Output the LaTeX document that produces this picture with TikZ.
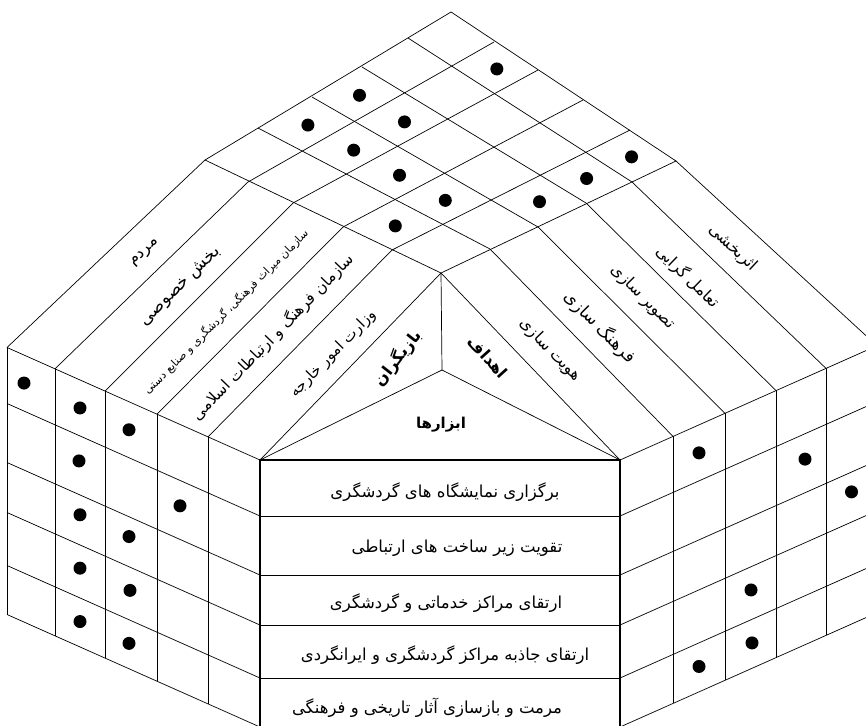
\documentclass[tikz,border=0pt]{standalone}
\usepackage{fontspec}
\newfontfamily\farsi[Script=Arabic]{DejaVu Sans}
\TeXXeTstate=1
\usetikzlibrary{calc}
\newcommand{\rtl}[1]{\beginR #1\endR}

\begin{document}
\begin{tikzpicture}[x=1pt, y=-1pt,
  wall/.style={line width=0.7pt},
  front/.style={line width=1.5pt},
  dot/.style={circle, fill, inner sep=0pt, minimum size=13pt},
  fa/.style={font=\farsi\fontsize{#1}{#1}\selectfont, inner sep=1pt},
  fab/.style={font=\farsi\bfseries\fontsize{#1}{#1}\selectfont, inner sep=1pt}]
\useasboundingbox (0,0) rectangle (866,725);
\clip (0,0) rectangle (866,725);

\foreach \p [count=\n from 0] in {{205,160},{258,128},{312,97},{362,67},{408,38},{451,12}} \coordinate (ab\n) at (\p);
\foreach \p [count=\n from 0] in {{441,273},{490,249},{538,227},{586,203},{632,182},{676,161}} \coordinate (dc\n) at (\p);
\foreach \p [count=\n from 0] in {{205,160},{248,182},{293,203},{343,227},{392,250},{441,273}} \coordinate (ad\n) at (\p);
\foreach \p [count=\n from 0] in {{451,12},{494,42},{538,70},{583,100},{630,130},{676,161}} \coordinate (bc\n) at (\p);
\foreach \p [count=\n from 0] in {{7,347.5},{55,368.8},{105,391.1},{157,414.2},{208,436.9},{260,460}} \coordinate (lt\n) at (\p);
\foreach \p [count=\n from 0] in {{620,460},{673,436.4},{725,413.3},{776,390.6},{826,368.4},{877,345.8}} \coordinate (rt\n) at (\p);
\coordinate (mid) at (442,370);

\foreach \n in {0,...,5} {
  \draw[wall] (ab\n) -- (dc\n);
  \draw[wall] (ad\n) -- (bc\n);
  \draw[wall] (lt\n) -- (ad\n);
  \draw[wall] (rt\n) -- (dc\n);
}
\draw[wall] (dc0) -- (mid) -- (lt5) (mid) -- (rt0);

\foreach \j [count=\k] in {0,...,4} {
  \coordinate (abm\j) at ($(ab\j)!0.5!(ab\k)$);
  \coordinate (dcm\j) at ($(dc\j)!0.5!(dc\k)$);
}
\foreach \i/\j in {0/1,0/2,1/1,1/2,1/4,2/1,3/0,3/1,4/2,4/3,4/4}
  \node[dot] (r\i\j) at ($(abm\j)!{(\i+0.5)/5}!(dcm\j)$) {};

\begin{scope}[shift={(260,460)}, yslant=-0.4447]
  \foreach \x in {-253,-205,-155,-103,-52} \draw[wall] (\x,0) -- (\x,267);
  \foreach \y in {0,56,115,165,218,267} \draw[wall] (-253,\y) -- (0,\y);
  \foreach \r/\c/\x in {0/0/-236,0/1/-180,0/2/-131,1/1/-181,1/3/-80,2/1/-180,2/2/-131,3/1/-180,3/2/-130,4/1/-180,4/2/-131}
    \node[dot] (l\r\c) at (\x,{\r*53.4+28}) {};
\end{scope}

\begin{scope}[shift={(620,460)}, yslant=0.4447]
  \foreach \x in {53,105,156,206,257} \draw[wall] (\x,0) -- (\x,267);
  \foreach \y in {0,56,115,165,218,267} \draw[wall] (0,\y) -- (257,\y);
  \foreach \r/\c/\x in {0/1/79,1/3/185,2/4/231.5,3/2/131,4/2/132,4/1/79}
    \node[dot] (g\r\c) at (\x,{\r*53.4+28}) {};
\end{scope}

\fill[white] (260,460) rectangle (620,727);
\foreach \y in {516,575,625,678} \draw[wall] (260,\y) -- (620,\y);
\draw[front] (260,727) -- (260,460) -- (620,460) -- (620,727);

\node[fa=16, rotate=44] (mardom) at (145,253) {\rtl{مردم}};
\node[fa=17, rotate=44.5] (khosusi) at (181,287) {\rtl{بخش خصوصی}};
\node[fa=11, rotate=45] (miras) at (226,312) {\rtl{سازمان میراث فرهنگی، گردشگری و صنایع دستی}};
\node[fa=15.5, rotate=46] (farhang) at (273,337) {\rtl{سازمان فرهنگ و ارتباطات اسلامی}};
\node[fa=15, rotate=45.5] (vezarat) at (333,354) {\rtl{وزارت امور خارجه}};
\node[fab=16, rotate=52] (bazigaran) at (398,358) {\rtl{بازیگران}};
\node[fab=16, rotate=-48] (ahdaf) at (488,357) {\rtl{اهداف}};
\node[fab=15] (abzarha) at (441,425) {\rtl{ابزارها}};

\node[fa=16, rotate=-46] (hoviat) at (550,350) {\rtl{هویت سازی}};
\node[fa=17, rotate=-45] (farhangsazi) at (600,327) {\rtl{فرهنگ سازی}};
\node[fa=16, rotate=-45] (tasvir) at (643,297) {\rtl{تصویر سازی}};
\node[fa=16, rotate=-44] (taamol) at (688,277) {\rtl{تعامل گرایی}};
\node[fa=16, rotate=-43] (asar) at (733,248) {\rtl{اثربخشی}};

\node[fa=16.5] (t0) at (445,492) {\rtl{برگزاری نمایشگاه های گردشگری}};
\node[fa=16.5] (t1) at (457,548) {\rtl{تقویت زیر ساخت های ارتباطی}};
\node[fa=16.5] (t2) at (446,603) {\rtl{ارتقای مراکز خدماتی و گردشگری}};
\node[fa=16.5] (t3) at (445,655) {\rtl{ارتقای جاذبه مراکز گردشگری و ایرانگردی}};
\node[fa=16.5] (t4) at (427,708) {\rtl{مرمت و بازسازی آثار تاریخی و فرهنگی}};
\end{tikzpicture}
\end{document}
